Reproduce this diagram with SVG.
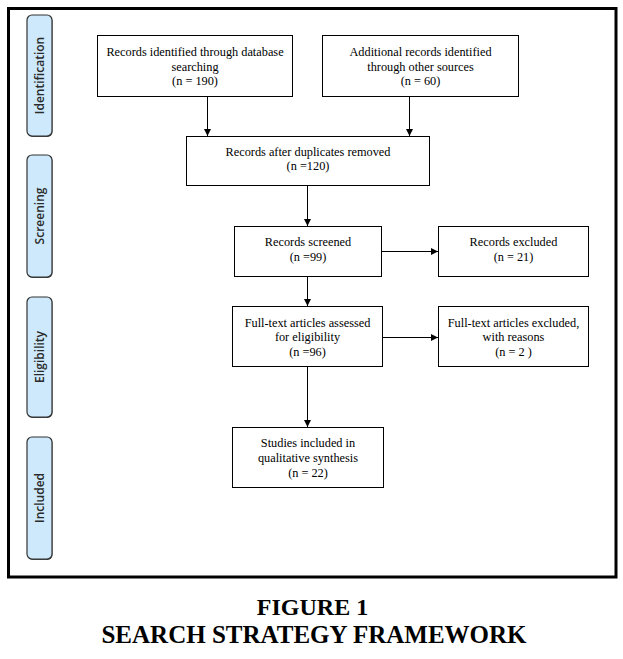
<svg xmlns="http://www.w3.org/2000/svg" width="623" height="659" viewBox="0 0 623 659">
<style>
.box{fill:#fff;stroke:#000;stroke-width:1}
.t{font-family:"Liberation Serif","Times New Roman",serif;font-size:12.3px;fill:#000;text-anchor:middle}
.side{fill:#cde9fb;stroke:#333;stroke-width:1.2}
.sh{fill:#444}
.st{font-family:"Open Sans","DejaVu Sans",sans-serif;font-size:12px;font-weight:600;fill:#2a2a2a;text-anchor:middle}
.cap{font-family:"Liberation Serif","Times New Roman",serif;font-weight:bold;fill:#000;text-anchor:middle}
.c{stroke:#000;stroke-width:1;fill:none;marker-end:url(#ah)}
</style>
<defs>
<marker id="ah" markerWidth="7" markerHeight="8" refX="7" refY="4" orient="auto" markerUnits="userSpaceOnUse">
<path d="M0,0.5 L7,4 L0,7.5 Z" fill="#000"/>
</marker>
</defs>
<rect x="0" y="0" width="623" height="659" fill="#fff"/>
<rect id="frame" x="8.5" y="8.5" width="607.5" height="568.5" fill="none" stroke="#000" stroke-width="3"/>

<g id="phase-identification">
<rect class="sh" x="27.5" y="16" width="25" height="121" rx="5"/>
<rect class="side" x="27" y="15" width="25" height="121" rx="5"/>
<text class="st" transform="translate(44,75.5) rotate(-90)">Identification</text>
</g>
<g id="phase-screening">
<rect class="sh" x="27.5" y="156" width="25" height="122" rx="5"/>
<rect class="side" x="27" y="155" width="25" height="122" rx="5"/>
<text class="st" transform="translate(44,216) rotate(-90)">Screening</text>
</g>
<g id="phase-eligibility">
<rect class="sh" x="27.5" y="298" width="25" height="120" rx="5"/>
<rect class="side" x="27" y="297" width="25" height="120" rx="5"/>
<text class="st" transform="translate(44,357) rotate(-90)">Eligibility</text>
</g>
<g id="phase-included">
<rect class="sh" x="27.5" y="438" width="25" height="122" rx="5"/>
<rect class="side" x="27" y="437" width="25" height="122" rx="5"/>
<text class="st" transform="translate(44,498) rotate(-90)">Included</text>
</g>

<g id="connectors">
<line class="c" x1="207.5" y1="96" x2="207.5" y2="136"/>
<line class="c" x1="409.5" y1="96" x2="409.5" y2="136"/>
<line class="c" x1="307.5" y1="185" x2="307.5" y2="226"/>
<line class="c" x1="382" y1="251.5" x2="438" y2="251.5"/>
<line class="c" x1="307.5" y1="277" x2="307.5" y2="306"/>
<line class="c" x1="383" y1="337.5" x2="438" y2="337.5"/>
<line class="c" x1="307.5" y1="367" x2="307.5" y2="427"/>
</g>

<g id="n1">
<rect class="box" x="97.5" y="35.5" width="195" height="61"/>
<text class="t" x="195" y="56">Records identified through database</text>
<text class="t" x="195" y="71">searching</text>
<text class="t" x="195" y="85">(n = 190)</text>
</g>
<g id="n2">
<rect class="box" x="322.5" y="35.5" width="196" height="61"/>
<text class="t" x="420.5" y="56">Additional records identified</text>
<text class="t" x="420.5" y="71">through other sources</text>
<text class="t" x="420.5" y="85">(n = 60)</text>
</g>
<g id="n3">
<rect class="box" x="186.5" y="136.5" width="243" height="49"/>
<text class="t" x="308" y="156">Records after duplicates removed</text>
<text class="t" x="308" y="170">(n =120)</text>
</g>
<g id="n4">
<rect class="box" x="234.5" y="226.5" width="147" height="50"/>
<text class="t" x="308" y="246">Records screened</text>
<text class="t" x="308" y="261">(n =99)</text>
</g>
<g id="n5">
<rect class="box" x="438.5" y="226.5" width="150" height="50"/>
<text class="t" x="513.5" y="246">Records excluded</text>
<text class="t" x="513.5" y="261">(n = 21)</text>
</g>
<g id="n6">
<rect class="box" x="232.5" y="306.5" width="150" height="60"/>
<text class="t" x="307.5" y="327">Full-text articles assessed</text>
<text class="t" x="307.5" y="341">for eligibility</text>
<text class="t" x="307.5" y="356">(n =96)</text>
</g>
<g id="n7">
<rect class="box" x="438.5" y="306.5" width="150" height="60"/>
<text class="t" x="513.5" y="327">Full-text articles excluded,</text>
<text class="t" x="513.5" y="341">with reasons</text>
<text class="t" x="513.5" y="356">(n = 2 )</text>
</g>
<g id="n8">
<rect class="box" x="232.5" y="427.5" width="151" height="60"/>
<text class="t" x="308" y="447">Studies included in</text>
<text class="t" x="308" y="462">qualitative synthesis</text>
<text class="t" x="308" y="477">(n = 22)</text>
</g>

<g id="caption">
<text class="cap" x="312.5" y="615" font-size="24">FIGURE 1</text>
<text class="cap" x="314" y="643" font-size="25">SEARCH STRATEGY FRAMEWORK</text>
</g>
</svg>
